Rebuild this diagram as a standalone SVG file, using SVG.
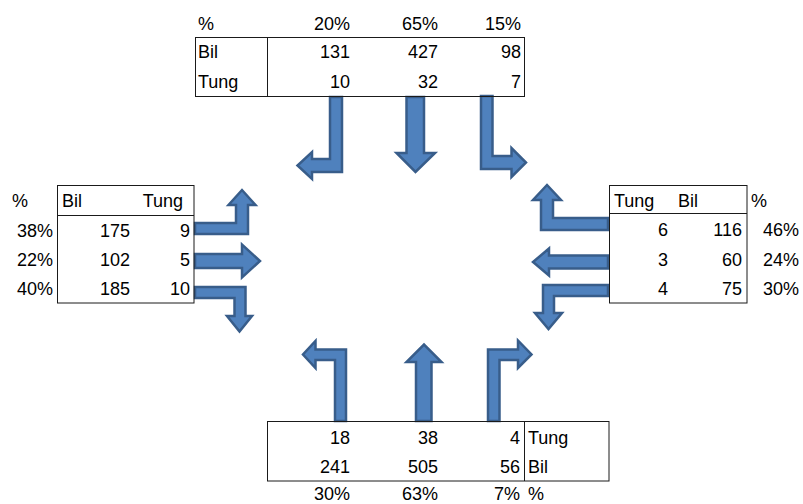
<svg xmlns="http://www.w3.org/2000/svg" width="803" height="504" viewBox="0 0 803 504">
<style>
text{font-family:"Liberation Sans",Arial,sans-serif;font-size:18px;fill:#000}
.e{text-anchor:end}
.box{fill:none;stroke:#1a1a1a;stroke-width:1}
.ln{stroke:#1a1a1a;stroke-width:1}
.arr{fill:#4f81bd;stroke:#385d8a;stroke-width:2.5;stroke-linejoin:miter}
</style>
<rect width="803" height="504" fill="#fff"/>
<g id="connectors">
<polygon class="arr" points="330,97 342,97 342,172 312,172 312,179 297.5,165.5 312,152 312,159 330,159"/>
<polygon class="arr" points="406.5,97 424,97 424,153 435,153 415.5,172 396.5,153 406.5,153"/>
<polygon class="arr" points="481,96 492.5,96 492.5,156 511.5,156 511.5,148 526,162.5 511.5,177 511.5,169 481,169"/>
<polygon class="arr" points="195,223 236,223 236,205 228.5,205 242,190 255.5,205 248,205 248,234 195,234"/>
<polygon class="arr" points="195,254 242,254 242,244.5 260,261 242,277.5 242,268 195,268"/>
<polygon class="arr" points="195,287 245.5,287 245.5,316 252,316 239.5,331.5 227,316 234.5,316 234.5,298 195,298"/>
<polygon class="arr" points="608,218 553,218 553,200 561,200 547,185 533,200 541,200 541,230 608,230"/>
<polygon class="arr" points="608,255.5 549,255.5 549,248.5 533,262 549,275.5 549,268.5 608,268.5"/>
<polygon class="arr" points="608,285 543,285 543,313 535,313 548.5,329 562,313 554,313 554,296 608,296"/>
<polygon class="arr" points="346,421 346,349.5 315.5,349.5 315.5,341 303,354.5 315.5,368 315.5,360 335,360 335,421"/>
<polygon class="arr" points="416,421 431.5,421 431.5,362 441.5,362 424,344.5 406.5,362 416,362"/>
<polygon class="arr" points="488,421 488,349.5 518,349.5 518,340.5 531.5,354.5 518,368 518,360 499.5,360 499.5,421"/>
</g>
<g id="top">
<rect class="box" x="195.5" y="37.5" width="329" height="59"/>
<line class="ln" x1="267.5" y1="37.5" x2="267.5" y2="96.5"/>
<text x="198" y="30">%</text>
<text class="e" x="350" y="30">20%</text>
<text class="e" x="438" y="30">65%</text>
<text class="e" x="521" y="30">15%</text>
<text x="198" y="58">Bil</text>
<text class="e" x="350" y="58">131</text>
<text class="e" x="438" y="58">427</text>
<text class="e" x="521" y="58">98</text>
<text x="198" y="88">Tung</text>
<text class="e" x="350" y="88">10</text>
<text class="e" x="438" y="88">32</text>
<text class="e" x="521" y="88">7</text>
</g>
<g id="left">
<rect class="box" x="57.5" y="185.5" width="136.5" height="117.5"/>
<line class="ln" x1="57.5" y1="215.5" x2="194" y2="215.5"/>
<text x="12" y="207">%</text>
<text x="62" y="207">Bil</text>
<text class="e" x="183" y="207">Tung</text>
<text class="e" x="53" y="237">38%</text>
<text class="e" x="130" y="237">175</text>
<text class="e" x="190" y="237">9</text>
<text class="e" x="53" y="266">22%</text>
<text class="e" x="130" y="266">102</text>
<text class="e" x="190" y="266">5</text>
<text class="e" x="53" y="295">40%</text>
<text class="e" x="130" y="295">185</text>
<text class="e" x="190" y="295">10</text>
</g>
<g id="right">
<rect class="box" x="609.5" y="185.5" width="137.5" height="117.5"/>
<line class="ln" x1="609.5" y1="213.5" x2="747" y2="213.5"/>
<text x="614" y="207">Tung</text>
<text x="678" y="207">Bil</text>
<text x="751" y="207">%</text>
<text class="e" x="668" y="236">6</text>
<text class="e" x="742" y="236">116</text>
<text class="e" x="799" y="236">46%</text>
<text class="e" x="668" y="266">3</text>
<text class="e" x="742" y="266">60</text>
<text class="e" x="799" y="266">24%</text>
<text class="e" x="668" y="295">4</text>
<text class="e" x="742" y="295">75</text>
<text class="e" x="799" y="295">30%</text>
</g>
<g id="bottom">
<rect class="box" x="267.5" y="421.5" width="341.5" height="59.5"/>
<line class="ln" x1="524.5" y1="421.5" x2="524.5" y2="481"/>
<text class="e" x="350" y="444">18</text>
<text class="e" x="438" y="444">38</text>
<text class="e" x="520" y="444">4</text>
<text x="528" y="444">Tung</text>
<text class="e" x="350" y="473">241</text>
<text class="e" x="438" y="473">505</text>
<text class="e" x="520" y="473">56</text>
<text x="528" y="473">Bil</text>
<text class="e" x="350" y="500">30%</text>
<text class="e" x="438" y="500">63%</text>
<text class="e" x="520" y="500">7%</text>
<text x="528" y="500">%</text>
</g>
</svg>
